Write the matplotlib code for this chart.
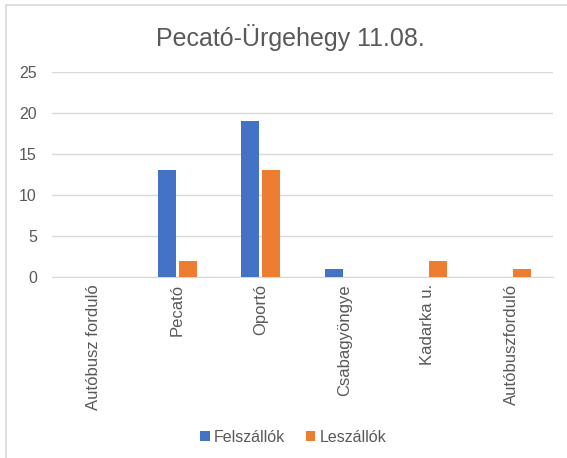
import numpy as np
import matplotlib
matplotlib.use("Agg")
import matplotlib.pyplot as plt
from matplotlib.patches import Rectangle

plt.rcParams['font.family'] = ['Liberation Sans', 'DejaVu Sans']

stops = ['Autóbusz forduló', 'Pecató', 'Oportó', 'Csabagyöngye', 'Kadarka u.', 'Autóbuszforduló']
felszallok = [0, 13, 19, 1, 0, 0]
leszallok = [0, 2, 13, 0, 2, 1]
series_names = ['Felszállók', 'Leszállók']

fig = plt.figure(figsize=(5.67, 4.58), dpi=100)
ax = fig.add_axes([0.092, 0.395, 0.883, 0.448])

# chart frame like the Excel export (right side runs off the picture)
fig.patches.append(Rectangle((6 / 567, -0.01), 1.1, 1 - 5 / 458 + 0.01,
                             transform=fig.transFigure, fill=False,
                             edgecolor='#d9d9d9', linewidth=1.2))

x = np.arange(len(stops))
w = 0.215
ax.bar(x - w / 2 - 0.02, felszallok, w, color='#4472C4', label=series_names[0], zorder=3)
ax.bar(x + w / 2 + 0.02, leszallok, w, color='#ED7D31', label=series_names[1], zorder=3)

ax.set_xlim(-0.5, len(stops) - 0.5)
ax.set_ylim(0, 25)
ax.set_yticks([0, 5, 10, 15, 20, 25])
ax.yaxis.grid(True, color='#d9d9d9', linewidth=1, zorder=0)
for s in ['top', 'right', 'left']:
    ax.spines[s].set_visible(False)
ax.spines['bottom'].set_color('#d9d9d9')
ax.tick_params(axis='both', length=0, labelsize=11.5, colors='#595959')
ax.tick_params(axis='y', pad=11)
ax.set_xticks(x)
ax.set_xticklabels(stops, rotation=90, fontsize=12, color='#595959')
ax.tick_params(axis='x', pad=5)

fig.text(0.512, 0.918, 'Pecató-Ürgehegy 11.08.', ha='center', va='center',
         fontsize=18, color='#595959')

fig.legend(loc='center', bbox_to_anchor=(0.517, 0.045), ncol=2, frameon=False,
           fontsize=11.5, handlelength=0.6, handleheight=0.6, handletextpad=0.25,
           columnspacing=1.3, labelcolor='#595959')

fig.savefig('out.png', dpi=100)
